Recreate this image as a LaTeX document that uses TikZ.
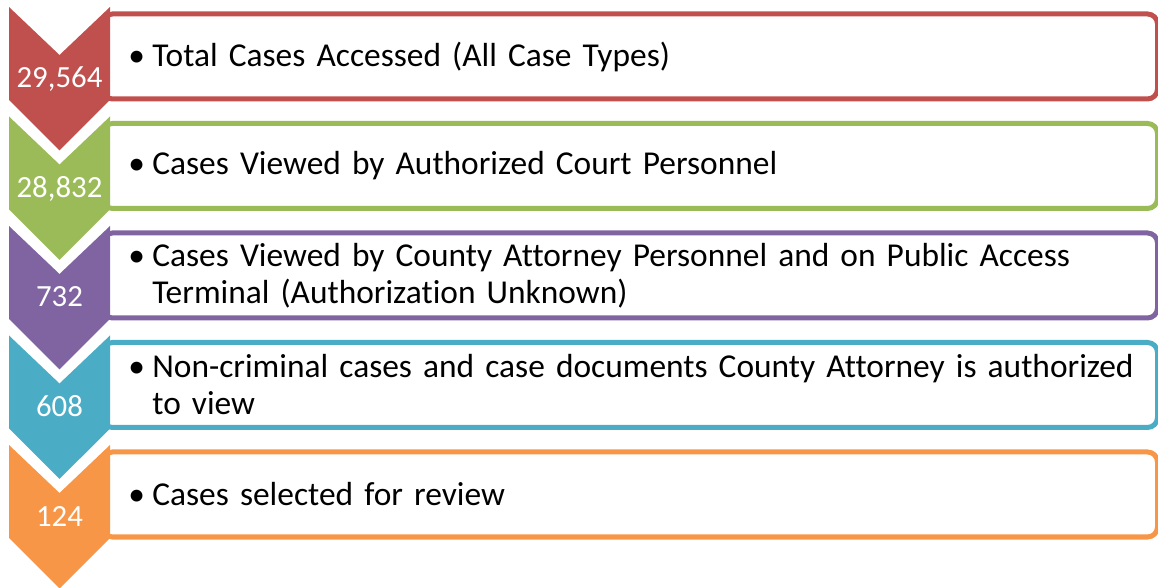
\documentclass[tikz,border=0pt]{standalone}
\usepackage{fontspec}
\setmainfont{Carlito}[Ligatures=NoCommon]
\definecolor{redc}{HTML}{C0504D}
\definecolor{greenc}{HTML}{9BBB59}
\definecolor{purplec}{HTML}{8064A2}
\definecolor{tealc}{HTML}{4BACC6}
\definecolor{orangec}{HTML}{F79646}
\hyphenpenalty=10000
\begin{document}
\begin{tikzpicture}[x=0.5pt,y=-0.5pt]
  \tikzset{
    box/.style={draw, rectangle, rounded corners=5pt, line width=2.5pt, minimum width=527.5pt, minimum height=42.5pt, anchor=west, inner sep=0pt},
    num/.style={text=white, anchor=base, inner sep=0pt, font=\fontsize{15.4}{18}\selectfont},
    txt/.style={anchor=west, text width=506pt, align=left, inner sep=0pt, font=\fontsize{16.7}{18.5}\selectfont},
  }
  \useasboundingbox (0,0) rectangle (1158,588);
  % boxes
  \node [box, draw=redc] (btot) at (100,56.5) {};
  \node [box, draw=greenc] (bcrt) at (100,166) {};
  \node [box, draw=purplec] (bcty) at (100,275.5) {};
  \node [box, draw=tealc] (bncr) at (100,385) {};
  \node [box, draw=orangec] (bsel) at (100,494.5) {};
  % chevrons
  \fill [redc] (9,7) -- (59.5,55) -- (110,7) -- (110,100) -- (59.5,150.5) -- (9,100) -- cycle;
  \fill [greenc] (9,116.5) -- (59.5,164.5) -- (110,116.5) -- (110,209.5) -- (59.5,260) -- (9,209.5) -- cycle;
  \fill [purplec] (9,226) -- (59.5,274) -- (110,226) -- (110,319) -- (59.5,369.5) -- (9,319) -- cycle;
  \fill [tealc] (9,335.5) -- (59.5,383.5) -- (110,335.5) -- (110,428.5) -- (59.5,479) -- (9,428.5) -- cycle;
  \fill [orangec] (9,445) -- (59.5,493) -- (110,445) -- (110,538) -- (59.5,588.5) -- (9,538) -- cycle;
  % numbers
  \node [num] (ntot) at (59.5,88) {29,564};
  \node [num] (ncrt) at (59.5,197.5) {28,832};
  \node [num] (ncty) at (59.5,307) {732};
  \node [num] (nncr) at (59.5,416.5) {608};
  \node [num] (nsel) at (59.5,526) {124};
  % texts
  \node [txt] (ttot) at (128,56.5) {\hangindent=12pt\hangafter=1\makebox[12pt][l]{•}Total Cases Accessed (All Case Types)\par};
  \node [txt] (tcrt) at (128,166) {\hangindent=12pt\hangafter=1\makebox[12pt][l]{•}Cases Viewed by Authorized Court Personnel\par};
  \node [txt] (tcty) at (128,275.5) {\hangindent=12pt\hangafter=1\makebox[12pt][l]{•}Cases Viewed by County Attorney Personnel and on Public Access Terminal (Authorization Unknown)\par};
  \node [txt] (tncr) at (128,385) {\hangindent=12pt\hangafter=1\makebox[12pt][l]{•}Non-criminal cases and case documents County Attorney is authorized to view\par};
  \node [txt] (tsel) at (128,494.5) {\hangindent=12pt\hangafter=1\makebox[12pt][l]{•}Cases selected for review\par};
\end{tikzpicture}
\end{document}
